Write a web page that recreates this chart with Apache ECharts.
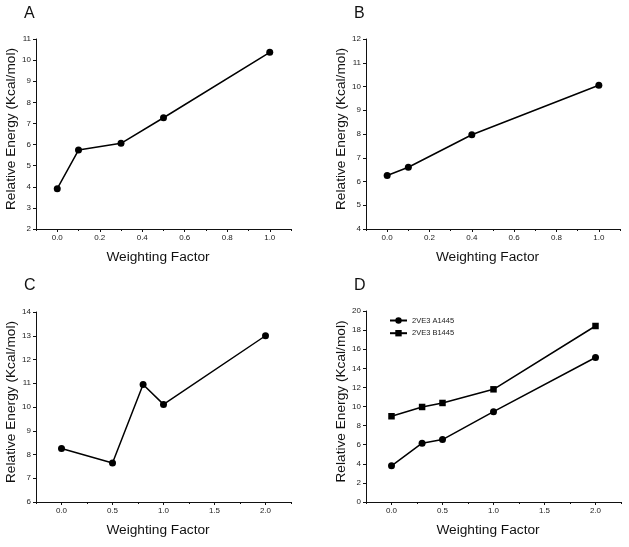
<!DOCTYPE html>
<html>
<head>
<meta charset="utf-8">
<script src="https://cdn.jsdelivr.net/npm/echarts@6/dist/echarts.min.js"></script>
<style>
html,body{margin:0;padding:0;background:#fff;}
#c{width:629px;height:547px;}
</style>
</head>
<body>
<div id="c"></div>
<script>
// ---- data ----
const panelTitles = ['A', 'B', 'C', 'D'];
const xA = [0, 0.1, 0.3, 0.5, 1.0];
const yA = [3.91, 5.74, 6.06, 7.27, 10.37];
const xB = [0, 0.1, 0.4, 1.0];
const yB = [6.25, 6.6, 7.97, 10.05];
const xC = [0, 0.5, 0.8, 1.0, 2.0];
const yC = [8.25, 7.64, 10.95, 10.11, 13.0];
const xD = [0, 0.3, 0.5, 1.0, 2.0];
const yD_A1445 = [3.79, 6.16, 6.54, 9.46, 15.13];
const yD_B1445 = [8.98, 9.95, 10.37, 11.8, 18.43];
const seriesNamesD = ['2VE3 A1445', '2VE3 B1445'];
const xMajorAB = [0, 0.2, 0.4, 0.6, 0.8, 1.0];
const xMinorAB = [-0.1, 0.1, 0.3, 0.5, 0.7, 0.9, 1.1];
const xMajorCD = [0, 0.5, 1.0, 1.5, 2.0];
const xMinorCD = [-0.25, 0.25, 0.75, 1.25, 1.75, 2.25];
const xName = 'Weighting Factor';
const yName = 'Relative Energy (Kcal/mol)';

const FONT = 'Liberation Sans, Arial, sans-serif';
const INK = '#111';

const grids = [
  {left: 36, top: 39, width: 255, height: 190},
  {left: 366, top: 39, width: 254, height: 190},
  {left: 36, top: 312, width: 255, height: 190},
  {left: 366, top: 311, width: 255, height: 191}
];
const xRanges = [[-0.1, 1.1], [-0.1, 1.1], [-0.25, 2.25], [-0.25, 2.25]];
const yRanges = [[2, 11, 1], [4, 12, 1], [6, 14, 1], [0, 20, 2]];
const majors = [xMajorAB, xMajorAB, xMajorCD, xMajorCD];
const minors = [xMinorAB, xMinorAB, xMinorCD, xMinorCD];

const xAxes = [], yAxes = [];
for (let i = 0; i < 4; i++) {
  xAxes.push({
    type: 'value', gridIndex: i, position: 'bottom', min: xRanges[i][0], max: xRanges[i][1],
    name: xName, nameLocation: 'middle', nameGap: 21,
    nameTextStyle: {fontFamily: FONT, fontSize: 13.7, color: INK, padding: [0, 11, 0, 0]},
    axisLine: {show: true, onZero: false, lineStyle: {color: INK, width: 1}},
    axisTick: {show: true, inside: false, length: 3, customValues: majors[i], lineStyle: {color: INK}},
    axisLabel: {show: true, margin: 5, fontFamily: FONT, fontSize: 8, color: '#222',
      customValues: majors[i], formatter: v => v.toFixed(1)},
    splitLine: {show: false}
  });
  // minor ticks overlay
  xAxes.push({
    type: 'value', gridIndex: i, position: 'bottom', min: xRanges[i][0], max: xRanges[i][1],
    axisLine: {show: false, onZero: false},
    axisTick: {show: true, inside: false, length: 2, customValues: minors[i], lineStyle: {color: INK}},
    axisLabel: {show: false},
    splitLine: {show: false}
  });
  yAxes.push({
    type: 'value', gridIndex: i, position: 'left', min: yRanges[i][0], max: yRanges[i][1], interval: yRanges[i][2],
    name: yName, nameLocation: 'middle', nameGap: 17, nameRotate: 90,
    nameTextStyle: {fontFamily: FONT, fontSize: 13.7, color: INK, padding: [0, 0, 0, 10]},
    axisLine: {show: true, onZero: false, lineStyle: {color: INK, width: 1}},
    axisTick: {show: true, inside: false, length: 3, lineStyle: {color: INK}},
    axisLabel: {show: true, margin: 5, fontFamily: FONT, fontSize: 8, color: '#222'},
    splitLine: {show: false}
  });
}

function pairs(xs, ys) { return xs.map((x, k) => [x, ys[k]]); }
const lineStyle = {color: '#000', width: 1.5};
function mkSeries(name, xi, yi, data, symbol, size) {
  return {
    name: name, type: 'line', xAxisIndex: xi, yAxisIndex: yi, data: data,
    symbol: symbol, symbolSize: size, showSymbol: true,
    lineStyle: lineStyle, itemStyle: {color: '#000'}, animation: false, z: 3
  };
}

const series = [
  mkSeries('A', 0, 0, pairs(xA, yA), 'circle', 7),
  mkSeries('B', 2, 1, pairs(xB, yB), 'circle', 7),
  mkSeries('C', 4, 2, pairs(xC, yC), 'circle', 7),
  mkSeries(seriesNamesD[0], 6, 3, pairs(xD, yD_A1445), 'circle', 7),
  mkSeries(seriesNamesD[1], 6, 3, pairs(xD, yD_B1445), 'rect', 6.5)
];

const titlePos = [[24, 6], [354, 6], [24, 278], [354, 278]];
const titles = panelTitles.map((t, i) => ({
  text: t, left: titlePos[i][0], top: titlePos[i][1], padding: 0,
  textStyle: {fontFamily: FONT, fontSize: 16, fontWeight: 'normal', color: INK}
}));

const chart = echarts.init(document.getElementById('c'), null, {renderer: 'canvas'});
chart.setOption({
  backgroundColor: '#fff',
  animation: false,
  title: titles,
  grid: grids,
  xAxis: xAxes,
  yAxis: yAxes,
  legend: {
    data: seriesNamesD, orient: 'vertical', left: 389, top: 316.5,
    itemWidth: 17, itemHeight: 8, itemGap: 4.7, padding: 0,
    textStyle: {fontFamily: FONT, fontSize: 7.5, color: '#222'},
    selectedMode: false
  },
  series: series
});
</script>
</body>
</html>
